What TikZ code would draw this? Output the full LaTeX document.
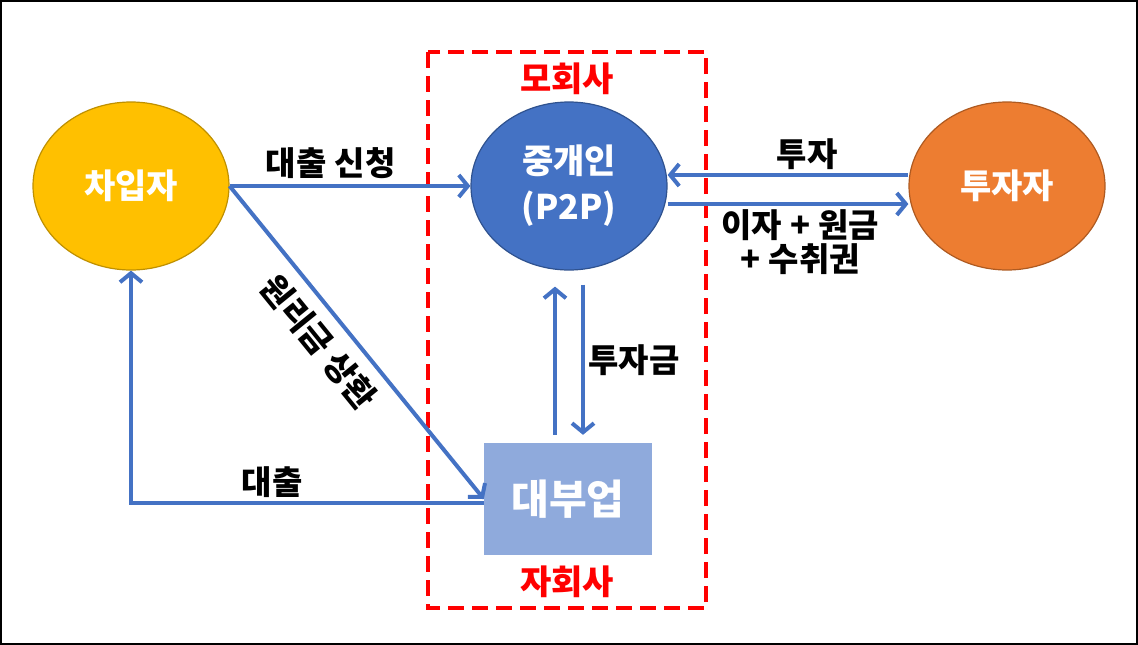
\documentclass[tikz,border=0pt]{standalone}
\usepackage{fontspec}
\setmainfont{Noto Sans CJK KR}
\usetikzlibrary{arrows.meta,shapes.geometric}

\definecolor{flowblue}{HTML}{4472C4}
\definecolor{borrowfill}{HTML}{FFC000}
\definecolor{borrowedge}{HTML}{BF9000}
\definecolor{brokerfill}{HTML}{4472C4}
\definecolor{brokeredge}{HTML}{2F528F}
\definecolor{investfill}{HTML}{ED7D31}
\definecolor{investedge}{HTML}{AE5A21}
\definecolor{lenderfill}{HTML}{8FAADC}

\newcommand{\hanbig}{\fontsize{34}{46}\selectfont\bfseries}
\newcommand{\hanlbl}{\fontsize{33}{34}\selectfont\bfseries\spaceskip=0.25em plus 0.1em}
\newcommand{\hanhuge}{\fontsize{41}{44}\selectfont\bfseries}

\begin{document}
\begin{tikzpicture}[x=1pt,y=-1pt,
    party/.style={ellipse,draw,line width=1.2pt,minimum width=196pt,minimum height=168pt,inner sep=0pt,text=white,font=\hanbig},
    flow/.style={draw=flowblue,line width=4pt,-{Straight Barb[length=9pt,width=22pt]}},
    lbl/.style={font=\hanlbl,text=black}]
                \useasboundingbox (0,0) rectangle (1138,645);
                \draw[line width=1.5pt] (1,1) rectangle (1137,644);

                \draw[red,line width=4pt,dash pattern=on 16pt off 8pt] (428,52) rectangle (706,608);
                \node[text=red,font=\hanbig] (parent) at (567,79) {모회사};
                \node[text=red,font=\hanbig] (child) at (567,582) {자회사};

                \node[party,fill=borrowfill,draw=borrowedge] (borrower) at (131,186) {차입자};
                \node[party,fill=brokerfill,draw=brokeredge,align=center] (broker) at (569,186) {중개인\\(P2P)};
                \node[party,fill=investfill,draw=investedge] (investor) at (1007,186) {투자자};
                \node[fill=lenderfill,minimum width=168pt,minimum height=112pt,text=white,font=\hanhuge] (lender) at (568,499) {대부업};

                \draw[flow] (borrower.east) -- node[lbl,above=2pt,pos=0.42] {대출 신청} (broker.west);
                \draw[flow] (borrower.east) -- node[lbl,sloped,below=8pt,pos=0.44] {원리금 상환} (lender.west);
                \draw[flow] ([yshift=-4pt]lender.west) -| node[lbl,above,pos=0.3] {대출} (borrower.south);

                \draw[flow] ([xshift=-13pt,yshift=8pt]lender.north) -- ([xshift=-14pt,yshift=-16pt]broker.south);
                \draw[flow] ([xshift=14pt,yshift=-14pt]broker.south) -- node[lbl,right] {투자금} ([xshift=15pt,yshift=8pt]lender.north);

                \draw[flow] ([yshift=11pt]investor.west) -- node[lbl,above,pos=0.42] {투자} ([yshift=11pt]broker.east);
                \draw[flow] ([yshift=-18pt]broker.east) -- node[lbl,below,align=center,pos=0.55] {이자 + 원금\\+ 수취권} ([yshift=-18pt]investor.west);
\end{tikzpicture}
\end{document}
